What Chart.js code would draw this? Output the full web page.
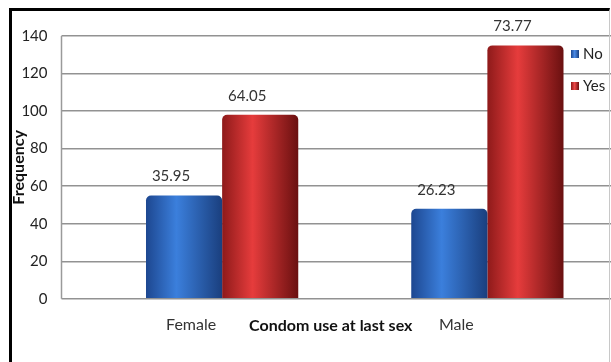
<!DOCTYPE html>
<html>
<head>
<meta charset="utf-8">
<script src="https://cdn.jsdelivr.net/npm/chart.js"></script>
<style>
  html, body { margin: 0; padding: 0; background: #fff; }
  #wrap { position: relative; width: 611px; height: 362px; overflow: hidden; background: #fff; }
  #chart { position: absolute; left: 0; top: 0; }
  #frame {
    position: absolute; left: 9px; top: 8px; width: 597px; height: 400px;
    border-left: 3px solid #000; border-top: 3px solid #000; border-right: 1px solid #c8c8c8;
    pointer-events: none;
  }
  .legend-item { position: absolute; left: 571px; font: 15px Lato, sans-serif; color: #222; white-space: nowrap; line-height: 16px; }
  .legend-item i { display: inline-block; width: 8px; height: 8px; margin-right: 4px; vertical-align: 1px; }
</style>
</head>
<body>
<div id="wrap">
  <canvas id="chart" width="620" height="362"></canvas>
  <div id="frame"></div>
  <div id="legend"></div>
</div>
<script>
// data
const categories = ['Female', 'Male'];
const seriesNames = ['No', 'Yes'];
const noCounts = [55, 48];
const yesCounts = [98, 135];
const noPercents = ['35.95', '26.23'];
const yesPercents = ['64.05', '73.77'];
const yMax = 140;
const yStep = 20;

// colours (cylinder shading, left to right)
const blueShade = [[0, '#1d4790'], [0.4, '#3b7fdc'], [1, '#1a3f7e']];
const redShade = [[0, '#8e1a1a'], [0.4, '#e63c3c'], [1, '#6a1010']];
const seriesColors = ['#2e66c0', '#cc2b2b'];

const Y_TICK_LEN = 28;

// horizontal gradient on every bar
const cylinderShade = {
  id: 'cylinderShade',
  beforeDatasetsDraw(chart) {
    const ctx = chart.ctx;
    chart.data.datasets.forEach((ds, i) => {
      const stops = i === 0 ? blueShade : redShade;
      chart.getDatasetMeta(i).data.forEach(bar => {
        const left = bar.x - bar.width / 2;
        const g = ctx.createLinearGradient(left, 0, left + bar.width, 0);
        stops.forEach(s => g.addColorStop(s[0], s[1]));
        bar.options.backgroundColor = g;
      });
    });
  }
};

// percentage labels over bars
const valueLabels = {
  id: 'valueLabels',
  afterDatasetsDraw(chart) {
    const ctx = chart.ctx;
    const texts = [noPercents, yesPercents];
    ctx.save();
    ctx.fillStyle = '#333';
    ctx.font = '15px Lato';
    ctx.textAlign = 'center';
    ctx.textBaseline = 'middle';
    chart.data.datasets.forEach((ds, i) => {
      chart.getDatasetMeta(i).data.forEach((bar, j) => {
        ctx.fillText(texts[i][j], bar.x - 13, bar.y - 19);
      });
    });
    ctx.restore();
  }
};

// back wall edge + x title sitting between the category labels
const frameBits = {
  id: 'frameBits',
  afterDraw(chart) {
    const ctx = chart.ctx;
    const a = chart.chartArea;
    const x = chart.scales.x;
    ctx.save();
    ctx.strokeStyle = '#9a9a9a';
    ctx.lineWidth = 1.5;
    ctx.beginPath();
    ctx.moveTo(a.left - Y_TICK_LEN, a.top);
    ctx.lineTo(a.left - Y_TICK_LEN, a.bottom);
    ctx.stroke();

    ctx.fillStyle = '#111';
    ctx.font = 'bold 16px Lato';
    ctx.textAlign = 'center';
    ctx.textBaseline = 'middle';
    const mid = (x.getPixelForValue(0) + x.getPixelForValue(1)) / 2;
    ctx.fillText('Condom use at last sex', mid - 24, x.top + 16 + 11);
    ctx.restore();
  }
};

new Chart(document.getElementById('chart'), {
  type: 'bar',
  data: {
    labels: categories,
    datasets: [
      { label: seriesNames[0], data: noCounts, backgroundColor: () => seriesColors[0] },
      { label: seriesNames[1], data: yesCounts, backgroundColor: () => seriesColors[1] }
    ]
  },
  options: {
    responsive: false,
    animation: false,
    categoryPercentage: 0.574,
    barPercentage: 1,
    layout: { padding: { left: 8, top: 36, right: 0, bottom: 12 } },
    elements: { bar: { borderRadius: { topLeft: 5, topRight: 5 }, borderSkipped: 'bottom' } },
    plugins: { legend: { display: false }, tooltip: { enabled: false } },
    scales: {
      x: {
        offset: true,
        grid: { display: false, drawTicks: false },
        border: { display: false },
        ticks: { padding: 16, labelOffset: -31, color: '#333', font: { family: 'Lato', size: 16 } }
      },
      y: {
        min: 0,
        max: yMax,
        ticks: { stepSize: yStep, padding: 14, color: '#222', font: { family: 'Lato', size: 15 } },
        grid: { color: '#929292', lineWidth: 1.5, drawTicks: true, tickLength: Y_TICK_LEN },
        border: { display: false },
        title: {
          display: true, text: 'Frequency', color: '#111',
          font: { family: 'Lato', size: 16, weight: 'bold' },
          padding: { top: 1, bottom: 0 }
        },
        afterFit(scale) { scale.width = 81.5; }
      }
    }
  },
  plugins: [cylinderShade, valueLabels, frameBits]
});

// legend (sits over the plot, right edge)
const legend = document.getElementById('legend');
const legendTops = [45, 77];
const legendSwatch = [
  'linear-gradient(90deg,#1d4790,#4a8ae6 45%,#1a3f7e)',
  'linear-gradient(90deg,#8e1a1a,#ee4a4a 45%,#6a1010)'
];
seriesNames.forEach((name, i) => {
  const d = document.createElement('div');
  d.className = 'legend-item';
  d.style.top = legendTops[i] + 'px';
  d.innerHTML = `<i style="background:${legendSwatch[i]}"></i>${name}`;
  legend.appendChild(d);
});
</script>
</body>
</html>
